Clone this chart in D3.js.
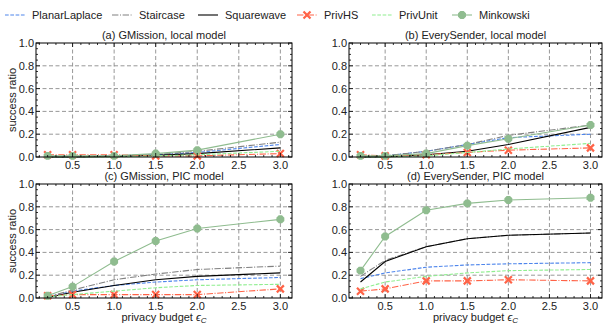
<!DOCTYPE html>
<html>
<head>
<meta charset="utf-8">
<script src="https://cdn.jsdelivr.net/npm/d3@7"></script>
<style>
  body { margin: 0; background: #fff; }
  svg { display: block; font-family: "Liberation Sans", Arial, sans-serif; }
</style>
</head>
<body>
<svg id="chart" width="607" height="326"></svg>
<script>
var budgets = [0.2, 0.5, 1.0, 1.5, 2.0, 3.0];
var xTicks = [0.5, 1.0, 1.5, 2.0, 2.5, 3.0];
var yTicks = [0.0, 0.2, 0.4, 0.6, 0.8, 1.0];
var methods = ["PlanarLaplace", "Staircase", "Squarewave", "PrivHS", "PrivUnit", "Minkowski"];
var panelTitles = ["(a) GMission, local model", "(b) EverySender, local model",
                   "(c) GMission, PIC model", "(d) EverySender, PIC model"];

// success ratio per method, one array per panel
var gmissionLocal = {
  PlanarLaplace: [0.00, 0.00, 0.01, 0.02, 0.04, 0.11],
  Staircase:     [0.00, 0.00, 0.01, 0.02, 0.05, 0.13],
  Squarewave:    [0.00, 0.00, 0.005, 0.015, 0.03, 0.08],
  PrivHS:        [0.02, 0.02, 0.02, 0.01, 0.01, 0.03],
  PrivUnit:      [0.00, 0.00, 0.00, 0.01, 0.02, 0.05],
  Minkowski:     [0.01, 0.01, 0.01, 0.03, 0.06, 0.20]
};
var everySenderLocal = {
  PlanarLaplace: [0.00, 0.01, 0.05, 0.11, 0.17, 0.20],
  Staircase:     [0.00, 0.01, 0.05, 0.11, 0.19, 0.28],
  Squarewave:    [0.00, 0.00, 0.02, 0.05, 0.11, 0.26],
  PrivHS:        [0.02, 0.01, 0.02, 0.04, 0.06, 0.08],
  PrivUnit:      [0.00, 0.00, 0.01, 0.04, 0.07, 0.12],
  Minkowski:     [0.01, 0.01, 0.03, 0.10, 0.16, 0.28]
};
var gmissionPIC = {
  PlanarLaplace: [0.01, 0.06, 0.11, 0.14, 0.16, 0.18],
  Staircase:     [0.01, 0.07, 0.16, 0.21, 0.25, 0.28],
  Squarewave:    [0.005, 0.05, 0.11, 0.16, 0.19, 0.22],
  PrivHS:        [0.02, 0.03, 0.03, 0.03, 0.03, 0.08],
  PrivUnit:      [0.01, 0.03, 0.06, 0.09, 0.11, 0.12],
  Minkowski:     [0.02, 0.10, 0.32, 0.50, 0.61, 0.69]
};
var everySenderPIC = {
  PlanarLaplace: [0.17, 0.22, 0.27, 0.29, 0.30, 0.31],
  Staircase:     [0.19, 0.33, 0.45, 0.52, 0.55, 0.57],
  Squarewave:    [0.14, 0.32, 0.45, 0.52, 0.55, 0.57],
  PrivHS:        [0.06, 0.08, 0.15, 0.15, 0.16, 0.15],
  PrivUnit:      [0.08, 0.14, 0.19, 0.22, 0.24, 0.25],
  Minkowski:     [0.24, 0.54, 0.77, 0.83, 0.86, 0.88]
};
var panelData = [gmissionLocal, everySenderLocal, gmissionPIC, everySenderPIC];

var styles = {
  PlanarLaplace: { color: "#4f86ec", dash: "3.7,1.6", marker: null },
  Staircase:     { color: "#808080", dash: "6.4,1.6,1,1.6", marker: null },
  Squarewave:    { color: "#000000", dash: null, marker: null },
  PrivHS:        { color: "#ff6347", dash: "6.4,1.6,1,1.6", marker: "x" },
  PrivUnit:      { color: "#90ee90", dash: "3.7,1.6", marker: null },
  Minkowski:     { color: "#8fbc8f", dash: null, marker: "oct" }
};

// octagon marker path
var octagon = d3.line()(d3.range(8).map(function(k) {
  var a = Math.PI / 8 + k * Math.PI / 4;
  return [4.3 * Math.cos(a), 4.3 * Math.sin(a)];
})) + "Z";
var cross = "M-3.5,-3.5L3.5,3.5M-3.5,3.5L3.5,-3.5";

var svg = d3.select("#chart");

var boxes = [
  { x0: 36, x1: 292, y0: 43, y1: 157 },
  { x0: 349, x1: 602, y0: 43, y1: 157 },
  { x0: 36, x1: 292, y0: 184, y1: 298 },
  { x0: 349, x1: 602, y0: 184, y1: 298 }
];

boxes.forEach(function(b, i) {
  var x = d3.scaleLinear().domain([0.06, 3.14]).range([b.x0, b.x1]);
  var y = d3.scaleLinear().domain([0, 1]).range([b.y1, b.y0]);
  var g = svg.append("g");

  // grid
  g.selectAll(".gx").data(xTicks).enter().append("line")
    .attr("x1", d => x(d)).attr("x2", d => x(d))
    .attr("y1", b.y0).attr("y2", b.y1)
    .attr("stroke", "#8c8c8c").attr("stroke-width", 0.9).attr("stroke-dasharray", "4,2.5");
  g.selectAll(".gy").data(yTicks.slice(1, 5)).enter().append("line")
    .attr("x1", b.x0).attr("x2", b.x1)
    .attr("y1", d => y(d)).attr("y2", d => y(d))
    .attr("stroke", "#8c8c8c").attr("stroke-width", 0.9).attr("stroke-dasharray", "4,2.5");

  // series
  var data = panelData[i];
  var line = d3.line().x((d, k) => x(budgets[k])).y(d => y(d));
  methods.forEach(function(m) {
    var s = styles[m];
    g.append("path").datum(data[m])
      .attr("d", line)
      .attr("fill", "none")
      .attr("stroke", s.color)
      .attr("stroke-width", 1.1)
      .attr("stroke-dasharray", s.dash);
    if (s.marker === "x") {
      g.selectAll(null).data(data[m]).enter().append("path")
        .attr("transform", (d, k) => "translate(" + x(budgets[k]) + "," + y(d) + ")")
        .attr("d", cross)
        .attr("stroke", s.color).attr("stroke-width", 2.2).attr("fill", "none");
    } else if (s.marker === "oct") {
      g.selectAll(null).data(data[m]).enter().append("path")
        .attr("transform", (d, k) => "translate(" + x(budgets[k]) + "," + y(d) + ")")
        .attr("d", octagon)
        .attr("fill", s.color);
    }
  });

  // frame + ticks
  g.append("rect").attr("x", b.x0).attr("y", b.y0)
    .attr("width", b.x1 - b.x0).attr("height", b.y1 - b.y0)
    .attr("fill", "none").attr("stroke", "#000").attr("stroke-width", 1);

  var xMinor = d3.range(1, 32).map(d => d / 10);
  var yMinor = d3.range(0, 21).map(d => d / 20);
  [b.y1, b.y0].forEach(function(yy, side) {
    var dir = side === 0 ? -1 : 1;
    g.selectAll(null).data(xMinor).enter().append("line")
      .attr("x1", d => x(d)).attr("x2", d => x(d))
      .attr("y1", yy).attr("y2", d => yy + dir * (xTicks.some(t => Math.abs(t - d) < 1e-6) ? 4 : 2))
      .attr("stroke", "#000").attr("stroke-width", 0.8);
  });
  [b.x0, b.x1].forEach(function(xx, side) {
    var dir = side === 0 ? 1 : -1;
    g.selectAll(null).data(yMinor).enter().append("line")
      .attr("y1", d => y(d)).attr("y2", d => y(d))
      .attr("x1", xx).attr("x2", d => xx + dir * (Math.round(d * 20) % 4 === 0 ? 4 : 2))
      .attr("stroke", "#000").attr("stroke-width", 0.8);
  });

  // tick labels
  g.selectAll(null).data(xTicks).enter().append("text")
    .attr("x", d => x(d)).attr("y", b.y1 + 12)
    .attr("text-anchor", "middle").attr("font-size", 11).attr("fill", "#222")
    .text(d => d.toFixed(1));
  g.selectAll(null).data(yTicks).enter().append("text")
    .attr("x", b.x0 - 2).attr("y", d => y(d) + 4)
    .attr("text-anchor", "end").attr("font-size", 11).attr("fill", "#222")
    .text(d => d.toFixed(1));

  // title
  g.append("text").attr("x", (b.x0 + b.x1) / 2).attr("y", b.y0 - 4)
    .attr("text-anchor", "middle").attr("font-size", 11).attr("fill", "#222")
    .text(panelTitles[i]);

  if (i % 2 === 0) {
    g.append("text")
      .attr("transform", "translate(" + 16 + "," + ((b.y0 + b.y1) / 2) + ") rotate(-90)")
      .attr("text-anchor", "middle").attr("font-size", 11).attr("fill", "#222")
      .text("success ratio");
  }
  if (i >= 2) {
    var xl = g.append("text").attr("x", (b.x0 + b.x1) / 2).attr("y", b.y1 + 23)
      .attr("text-anchor", "middle").attr("font-size", 11).attr("fill", "#222");
    xl.append("tspan").text("privacy budget ");
    xl.append("tspan").attr("font-style", "italic").text("\u03f5");
    xl.append("tspan").attr("font-style", "italic").attr("font-size", 8).attr("dy", 2).text("C");
  }
});

// legend
var legendX = [5, 112, 198, 297, 372, 452];
methods.forEach(function(m, i) {
  var s = styles[m];
  var lg = svg.append("g").attr("transform", "translate(" + legendX[i] + ",15)");
  lg.append("line").attr("x1", 0).attr("x2", 20).attr("y1", 0).attr("y2", 0)
    .attr("stroke", s.color).attr("stroke-width", 1.1).attr("stroke-dasharray", s.dash);
  if (s.marker === "x") {
    lg.append("path").attr("transform", "translate(10,0)")
      .attr("d", cross).attr("stroke", s.color).attr("stroke-width", 2.2);
  } else if (s.marker === "oct") {
    lg.append("path").attr("transform", "translate(10,0)")
      .attr("d", octagon).attr("fill", s.color);
  }
  lg.append("text").attr("x", 27).attr("y", 4).attr("font-size", 11).attr("fill", "#222").text(m);
});
</script>
</body>
</html>
